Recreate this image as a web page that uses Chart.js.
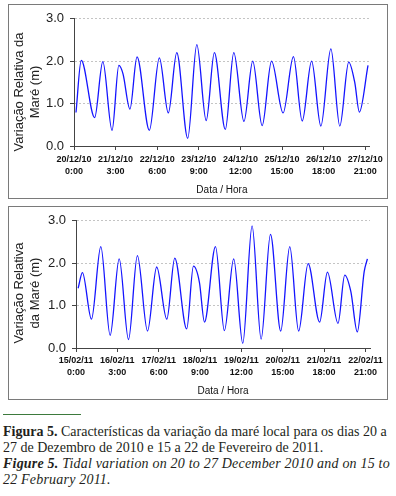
<!DOCTYPE html>
<html lang="pt">
<head>
<meta charset="UTF-8">
<title>Variação da maré - Figura 5</title>
<script src="https://cdn.jsdelivr.net/npm/chart.js"></script>
<style>
    body {
        margin: 0;
        width: 396px;
        height: 496px;
        background: #fff;
        position: relative;
        overflow: hidden;
    }
    .box {
        position: absolute;
        left: 8px;
        width: 378px;
        border: 1px solid #7a7a7a;
    }
    #box1 { top: 4px; height: 193px; }
    #box2 { top: 206px; height: 192px; }
    .box canvas { display: block; }
    .rule {
        position: absolute;
        left: 3px;
        top: 414px;
        width: 78px;
        height: 1px;
        background: #3d7a3d;
    }
    .caption {
        position: absolute;
        left: 3px;
        top: 424px;
        font-family: "Liberation Serif", serif;
        font-size: 14px;
        line-height: 16px;
        color: #231f20;
        white-space: nowrap;
    }
    .caption i { letter-spacing: 0.2px; }
</style>
</head>
<body>
    <div class="box" id="box1"><canvas id="decChart" width="378" height="193"></canvas></div>
    <div class="box" id="box2"><canvas id="febChart" width="378" height="192"></canvas></div>

    <div class="rule"></div>
    <div class="caption">
        <b>Figura 5.</b> Características da variação da maré local para os dias 20 a<br>
        27 de Dezembro de 2010 e 15 a 22 de Fevereiro de 2011.<br>
        <i><b>Figure 5.</b> Tidal variation on 20 to 27 December 2010 and on 15 to<br>
        22 February 2011.</i>
    </div>

    <script>
        // x axis ticks: one every 27 hours
        const tickHour = [0, 27, 54, 81, 108, 135, 162, 189];
        const tickTime = ['0:00', '3:00', '6:00', '9:00', '12:00', '15:00', '18:00', '21:00'];
        const decDates = ['20/12/10', '21/12/10', '22/12/10', '23/12/10', '24/12/10', '25/12/10', '26/12/10', '27/12/10'];
        const febDates = ['15/02/11', '16/02/11', '17/02/11', '18/02/11', '19/02/11', '20/02/11', '21/02/11', '22/02/11'];
        const levelTicks = [0, 1, 2, 3];

        // December 2010: hours since 20/12 0:00 and tide level (m), read at highs/lows
        const decHours = [1.3, 4.7, 13.4, 18.7, 24.7, 29.1, 31.8, 36.3, 40.9, 48.9, 55.4, 61.2, 66.7, 73.8,
            79.7, 85.8, 91.1, 98.2, 103.7, 110.3, 116.0, 122.1, 128.2, 135.7, 142.4, 148.1, 154.2,
            160.2, 166.7, 172.5, 178.3, 182.2, 185.2, 190.8];
        const decLevel = [0.79, 2.02, 0.67, 1.99, 0.37, 1.90, 1.70, 0.87, 2.10, 0.37, 2.08, 0.78, 2.20, 0.18,
            2.39, 0.60, 2.20, 0.39, 2.20, 0.58, 2.00, 0.48, 2.00, 0.78, 2.11, 0.59, 2.00,
            0.47, 2.29, 0.47, 1.98, 1.50, 0.80, 1.90];

        // February 2011: hours since 15/02 0:00
        const febHours = [1.4, 4.2, 10.1, 16.2, 22.3, 28.2, 34.3, 40.1, 46.7, 52.7, 59.3, 64.5, 72.3, 76.7,
            80.6, 83.9, 91.1, 96.9, 103.0, 108.9, 115.0, 120.9, 127.0, 133.7, 139.6, 145.4, 151.6,
            159.1, 164.2, 171.1, 175.5, 179.5, 183.7, 188.2, 190.3];
        const febLevel = [1.41, 1.78, 0.68, 2.39, 0.30, 2.10, 0.20, 2.18, 0.40, 1.91, 0.68, 2.12, 0.45, 1.93,
            1.55, 0.61, 2.39, 0.41, 2.10, 0.11, 2.88, 0.21, 2.68, 0.40, 2.39, 0.40, 1.99,
            0.61, 1.79, 0.58, 1.72, 1.33, 0.38, 1.80, 2.10];

        Chart.defaults.font.family = '"Liberation Sans", Arial, sans-serif';
        Chart.defaults.color = '#000';

        // y axis title drawn as two centred lines (Excel style)
        const sideTitle = {
            id: 'sideTitle',
            afterDraw(chart, args, opts) {
                const ctx = chart.ctx;
                ctx.save();
                ctx.font = '13px "Liberation Sans", Arial, sans-serif';
                ctx.fillStyle = '#222';
                ctx.textAlign = 'center';
                ctx.textBaseline = 'middle';
                ctx.translate(opts.x, opts.y);
                ctx.rotate(-Math.PI / 2);
                opts.lines.forEach((line, i) => ctx.fillText(line, 0, i * opts.gap));
                ctx.restore();
            }
        };

        function drawTideChart(id, hours, level, dates, titleLines, g) {
            const points = hours.map((h, i) => ({ x: h, y: level[i] }));
            new Chart(document.getElementById(id), {
                type: 'line',
                data: {
                    datasets: [{
                        data: points,
                        borderColor: '#1414ff',
                        borderWidth: 1.3,
                        pointRadius: 0,
                        fill: false,
                        cubicInterpolationMode: 'monotone'
                    }]
                },
                plugins: [sideTitle],
                options: {
                    responsive: false,
                    animation: false,
                    layout: { padding: { left: 0, top: 10, right: g.right, bottom: 0 } },
                    plugins: {
                        legend: { display: false },
                        tooltip: { enabled: false },
                        sideTitle: { lines: titleLines, x: g.tx, y: g.ty, gap: 16 }
                    },
                    scales: {
                        x: {
                            type: 'linear',
                            min: 0,
                            max: 192,
                            afterBuildTicks: s => { s.ticks = tickHour.map(v => ({ value: v })); },
                            afterFit: s => { s.height = g.xh; },
                            ticks: {
                                autoSkip: false,
                                maxRotation: 0,
                                padding: g.xpad,
                                color: '#111',
                                font: { size: 9, weight: 'bold', lineHeight: 1.3 },
                                callback: (v, i) => [dates[i], tickTime[i]]
                            },
                            grid: { drawOnChartArea: false, tickLength: 4, tickColor: '#444' },
                            border: { color: '#444' },
                            title: {
                                display: true,
                                text: 'Data / Hora',
                                color: '#111',
                                font: { size: 10 },
                                padding: { top: 0, bottom: 2 }
                            }
                        },
                        y: {
                            min: 0,
                            max: 3,
                            afterBuildTicks: s => { s.ticks = levelTicks.map(v => ({ value: v })); },
                            afterFit: s => { s.width = g.yw; },
                            ticks: {
                                color: '#222',
                                font: { size: 13 },
                                padding: 6,
                                callback: v => v.toFixed(1)
                            },
                            grid: {
                                color: c => (c.tick && c.tick.value === 0) ? 'rgba(0,0,0,0)' : '#c4c4c4',
                                tickLength: 4,
                                tickColor: '#444'
                            },
                            border: { color: '#444', dash: [2, 2] }
                        }
                    }
                }
            });
        }

        drawTideChart('decChart', decHours, decLevel, decDates, ['Variação Relativa da', 'Maré (m)'],
            { yw: 65, xh: 52, right: 16, xpad: 4, tx: 10.5, ty: 87 });
        drawTideChart('febChart', febHours, febLevel, febDates, ['Variação Relativa', 'da Maré (m)'],
            { yw: 67, xh: 51, right: 17, xpad: 3, tx: 10, ty: 86 });
    </script>
</body>
</html>
